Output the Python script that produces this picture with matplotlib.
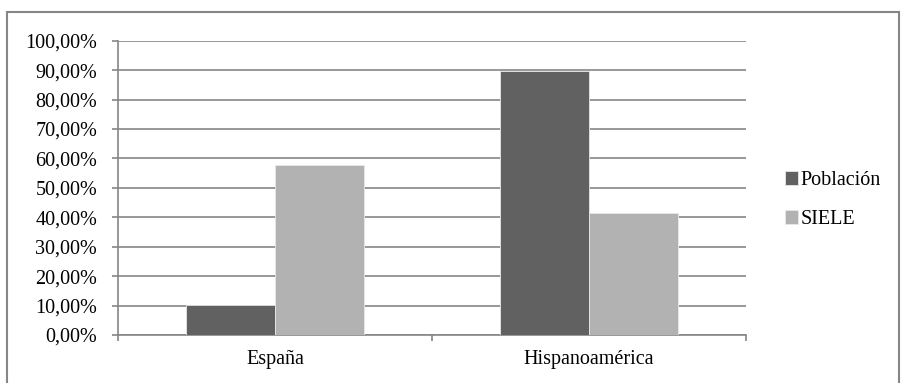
import matplotlib
matplotlib.use("Agg")
import matplotlib.pyplot as plt
from matplotlib.patches import Rectangle
from matplotlib.ticker import FuncFormatter
import numpy as np

categories = ["España", "Hispanoamérica"]
poblacion = [10.2, 89.8]
siele = [57.7, 41.5]
series_names = ["Población", "SIELE"]

plt.rcParams["font.family"] = ["Liberation Serif", "DejaVu Serif"]
grey = "#868686"

fig = plt.figure(figsize=(9.02, 3.83), dpi=100)
ax = fig.add_axes([118 / 902, 1 - 335 / 383, 628 / 902, (335 - 40.7) / 383])

x = np.arange(len(categories))
w = 0.284
ax.bar(x - w / 2, poblacion, w, color="#616161", edgecolor="#e8e8e8",
       linewidth=0.6, label=series_names[0], zorder=3)
ax.bar(x + w / 2, siele, w, color="#b2b2b2", edgecolor="#e8e8e8",
       linewidth=0.6, label=series_names[1], zorder=3)

ax.set_xlim(-0.5, 1.5)
ax.set_ylim(0, 100)
ax.set_yticks(np.arange(0, 101, 10))
ax.yaxis.set_major_formatter(FuncFormatter(lambda v, p: f"{v:.2f}".replace(".", ",") + "%"))
ax.yaxis.grid(True, color=grey, linewidth=1.2, zorder=0)
ax.set_axisbelow(True)

ax.set_xticks([-0.5, 0.5, 1.5])
ax.set_xticklabels([])
ax.set_xticks(x, minor=True)
ax.set_xticklabels(categories, minor=True)
ax.tick_params(axis="x", which="minor", length=0, pad=11, labelsize=14.5)
ax.tick_params(axis="x", which="major", length=4, color=grey, width=1.2)
ax.tick_params(axis="y", length=4, color=grey, width=1.2, pad=11, labelsize=14.5)

for s in ["top", "right"]:
    ax.spines[s].set_visible(False)
for s in ["left", "bottom"]:
    ax.spines[s].set_color(grey)
    ax.spines[s].set_linewidth(1.2)

ax.legend(loc="center left", bbox_to_anchor=(775 / 902, 1 - 200 / 383),
          bbox_transform=fig.transFigure, frameon=False, fontsize=14.5,
          handlelength=0.65, handleheight=0.65, handletextpad=0.1,
          labelspacing=1.0, borderpad=0)

fig.patches.append(Rectangle((7 / 902, -0.05), 892 / 902, 1 - 11.5 / 383 + 0.05,
                             transform=fig.transFigure, fill=False,
                             edgecolor=grey, linewidth=1.5))

fig.savefig("out.png", dpi=100)
